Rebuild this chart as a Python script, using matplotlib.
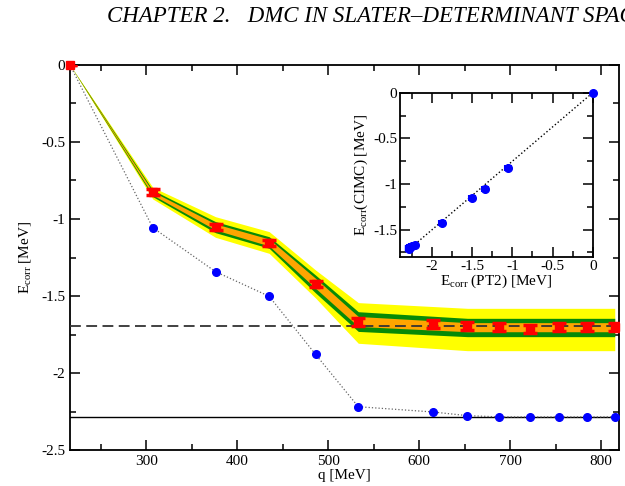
import numpy as np
import matplotlib
matplotlib.use("Agg")
import matplotlib.pyplot as plt
from matplotlib.ticker import MultipleLocator

plt.rcParams['font.family'] = ['Liberation Serif', 'DejaVu Serif']
plt.rcParams['mathtext.fontset'] = 'custom'
plt.rcParams['mathtext.rm'] = 'Liberation Serif'
plt.rcParams['mathtext.it'] = 'Liberation Serif:italic'

# data
q = [216, 307, 376, 435, 486, 533, 615, 653, 688, 722, 754, 785, 815]
e_cimc = [0.0, -0.827, -1.050, -1.154, -1.424, -1.667, -1.682, -1.695, -1.701, -1.716, -1.701, -1.701, -1.700]
e_cimc_err = [0.0, 0.02, 0.02, 0.02, 0.02, 0.025, 0.025, 0.025, 0.025, 0.025, 0.025, 0.025, 0.025]
e_pt2 = [0.0, -1.056, -1.342, -1.502, -1.879, -2.219, -2.253, -2.277, -2.285, -2.285, -2.285, -2.285, -2.285]
e_pt2_err = [0.0, 0.035, 0.035, 0.035, 0.035, 0.035, 0.035, 0.035, 0.035, 0.035, 0.035, 0.035, 0.035]

# uncertainty bands (edges)
band_q = [216, 307, 376, 435, 486, 533, 653, 815]
yellow_hi = [0.0, -0.794, -0.985, -1.082, -1.331, -1.543, -1.580, -1.580]
yellow_lo = [0.0, -0.870, -1.119, -1.223, -1.513, -1.807, -1.855, -1.855]
green_hi = [0.0, -0.812, -1.017, -1.115, -1.364, -1.602, -1.645, -1.645]
green_lo = [0.0, -0.855, -1.089, -1.190, -1.480, -1.730, -1.764, -1.764]
orange_hi = [0.0, -0.823, -1.032, -1.130, -1.385, -1.633, -1.673, -1.673]
orange_lo = [0.0, -0.844, -1.071, -1.175, -1.450, -1.698, -1.732, -1.732]

e_extrap = -1.693
e_pt2_limit = -2.284

header = "CHAPTER 2.   DMC IN SLATER\u2013DETERMINANT SPACE"

fig = plt.figure(figsize=(6.25, 4.86), dpi=100)
fig.text(107/625, 1-22/486, header, fontsize=16.5, style='italic', ha='left', va='baseline')

ax = fig.add_axes([70/625, 36/486, 549.3/625, 385/486])
ax.fill_between(band_q, yellow_lo, yellow_hi, color='#ffff00', lw=0, zorder=1)
ax.fill_between(band_q, green_lo, green_hi, color='#078a07', lw=0, zorder=2)
ax.fill_between(band_q, orange_lo, orange_hi, color='#ffa500', lw=0, zorder=3)

ax.axhline(e_extrap, color='#333333', ls=(0, (6, 3)), lw=1.3, zorder=4)
ax.axhline(e_pt2_limit, color='black', ls='-', lw=1.0, zorder=4)

ax.plot(q, e_pt2, ls=':', color='#666666', lw=0.9, marker='o', ms=5.5,
        mfc='#0000ff', mec='#0000ff', zorder=5, clip_on=False)
eb = ax.errorbar(q, e_cimc, yerr=e_cimc_err, fmt='s', color='#ff0000', ms=5.5,
                 elinewidth=2.5, capsize=5, capthick=2.5, zorder=6)
eb.lines[0].set_clip_on(False)

ax.set_xlim(216, 820)
ax.set_ylim(-2.5, 0)
ax.xaxis.set_major_locator(MultipleLocator(100))
ax.xaxis.set_minor_locator(MultipleLocator(50))
ax.yaxis.set_major_locator(MultipleLocator(0.5))
ax.yaxis.set_minor_locator(MultipleLocator(0.25))
ax.set_yticks([0, -0.5, -1, -1.5, -2, -2.5])
ax.set_yticklabels(['0', '-0.5', '-1', '-1.5', '-2', '-2.5'])
ax.tick_params(which='both', direction='in', top=True, right=True, labelsize=11, width=1.1)
ax.tick_params(which='major', length=7.5)
ax.tick_params(which='minor', length=4)
for s in ax.spines.values():
    s.set_linewidth(1.3)
ax.set_xlabel('q [MeV]', fontsize=11, labelpad=1)
ax.set_ylabel(r'$\mathrm{E}_{\mathrm{corr}}$ [MeV]', fontsize=11, labelpad=6)

# inset: CIMC vs PT2
ins = fig.add_axes([400/625, 1-257/486, 192.7/625, 164.3/486])
ins.set_facecolor('white')
x = np.array(e_pt2)
y = np.array(e_cimc)
slope = np.sum(x*y)/np.sum(x*x)
xl = np.array([x.min(), 0.0])
ins.plot(xl, slope*xl, ls=':', color='black', lw=1.0, zorder=2)
ieb = ins.errorbar(e_pt2, e_cimc, xerr=e_pt2_err, fmt='o', color='#0000ff', ms=5.5,
                   elinewidth=1.5, capsize=2.5, capthick=1.5, zorder=3)
ieb.lines[0].set_clip_on(False)
ins.set_xlim(-2.4, 0)
ins.set_ylim(-1.8, 0)
ins.xaxis.set_major_locator(MultipleLocator(0.5))
ins.xaxis.set_minor_locator(MultipleLocator(0.25))
ins.yaxis.set_major_locator(MultipleLocator(0.5))
ins.yaxis.set_minor_locator(MultipleLocator(0.25))
ins.set_xticks([-2, -1.5, -1, -0.5, 0])
ins.set_xticklabels(['-2', '-1.5', '-1', '-0.5', '0'])
ins.set_yticks([0, -0.5, -1, -1.5])
ins.set_yticklabels(['0', '-0.5', '-1', '-1.5'])
ins.tick_params(which='both', direction='in', top=True, right=True, labelsize=11, width=1.1, pad=2)
ins.tick_params(which='major', length=7)
ins.tick_params(which='minor', length=4)
for s in ins.spines.values():
    s.set_linewidth(1.3)
ins.set_xlabel(r'$\mathrm{E}_{\mathrm{corr}}$ (PT2) [MeV]', fontsize=11, labelpad=0)
ins.set_ylabel(r'$\mathrm{E}_{\mathrm{corr}}$(CIMC) [MeV]', fontsize=11, labelpad=2)

fig.savefig('out.png', dpi=100)
